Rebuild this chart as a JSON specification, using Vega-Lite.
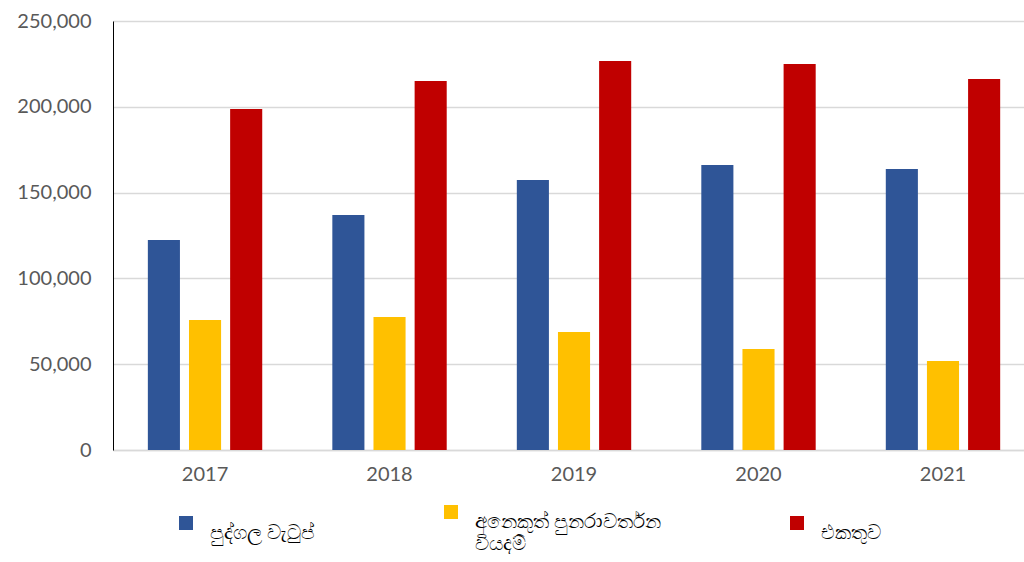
{
  "$schema": "https://vega.github.io/schema/vega-lite/v6.json",
  "width": 911,
  "height": 429,
  "padding": {"left": 16, "top": 11, "right": 0, "bottom": 0},
  "background": "white",
  "config": {
    "view": {"stroke": null},
    "font": "Lato"
  },
  "data": {
    "values": [
      {"year": "2017", "series": "පුද්ගල වැටුප්", "value": 122400},
      {"year": "2017", "series": "අනෙකුත් පුනරාවර්තන වියදම්", "value": 75800},
      {"year": "2017", "series": "එකතුව", "value": 198700},
      {"year": "2018", "series": "පුද්ගල වැටුප්", "value": 137000},
      {"year": "2018", "series": "අනෙකුත් පුනරාවර්තන වියදම්", "value": 77500},
      {"year": "2018", "series": "එකතුව", "value": 215000},
      {"year": "2019", "series": "පුද්ගල වැටුප්", "value": 157300},
      {"year": "2019", "series": "අනෙකුත් පුනරාවර්තන වියදම්", "value": 68800},
      {"year": "2019", "series": "එකතුව", "value": 226700},
      {"year": "2020", "series": "පුද්ගල වැටුප්", "value": 166100},
      {"year": "2020", "series": "අනෙකුත් පුනරාවර්තන වියදම්", "value": 58900},
      {"year": "2020", "series": "එකතුව", "value": 225000},
      {"year": "2021", "series": "පුද්ගල වැටුප්", "value": 163800},
      {"year": "2021", "series": "අනෙකුත් පුනරාවර්තන වියදම්", "value": 51900},
      {"year": "2021", "series": "එකතුව", "value": 216200}
    ]
  },
  "mark": {"type": "bar"},
  "encoding": {
    "x": {
      "field": "year",
      "type": "nominal",
      "title": null,
      "scale": {"paddingInner": 0.38, "paddingOuter": 0.159, "align": 0.594},
      "axis": {
        "labelAngle": 0,
        "labelFontSize": 20,
        "labelColor": "#595959",
        "labelPadding": 14,
        "domainColor": "#d9d9d9",
        "domainWidth": 1.5,
        "ticks": false
      }
    },
    "xOffset": {
      "field": "series",
      "type": "nominal",
      "sort": ["පුද්ගල වැටුප්", "අනෙකුත් පුනරාවර්තන වියදම්", "එකතුව"],
      "scale": {"paddingInner": 0.22, "paddingOuter": 0}
    },
    "y": {
      "field": "value",
      "type": "quantitative",
      "title": null,
      "scale": {"domain": [0, 250000]},
      "axis": {
        "values": [0, 50000, 100000, 150000, 200000, 250000],
        "format": ",.0f",
        "labelFontSize": 20,
        "labelColor": "#595959",
        "labelPadding": 22,
        "ticks": false,
        "domain": true,
        "domainColor": "#000000",
        "gridColor": "#d9d9d9",
        "gridWidth": 1.5
      }
    },
    "color": {
      "field": "series",
      "type": "nominal",
      "sort": ["පුද්ගල වැටුප්", "අනෙකුත් පුනරාවර්තන වියදම්", "එකතුව"],
      "scale": {
        "domain": ["පුද්ගල වැටුප්", "අනෙකුත් පුනරාවර්තන වියදම්", "එකතුව"],
        "range": ["#2F5597", "#FFC000", "#C00000"]
      },
      "legend": {
        "title": null,
        "orient": "none",
        "legendX": 63,
        "legendY": 481,
        "direction": "horizontal",
        "columns": 3,
        "columnPadding": 125,
        "symbolType": "square",
        "symbolSize": 196,
        "symbolStrokeWidth": 0,
        "labelFontSize": 20,
        "labelColor": "#000000",
        "labelBaseline": "top",
        "labelOffset": 14,
        "labelLimit": 300,
        "labelExpr": "datum.label == 'අනෙකුත් පුනරාවර්තන වියදම්' ? ['අනෙකුත් පුනරාවර්තන', 'වියදම්'] : datum.label"
      }
    }
  }
}
